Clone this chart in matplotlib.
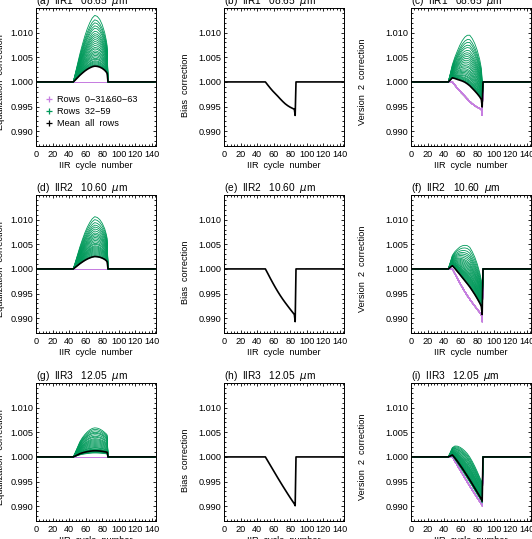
import numpy as np
import matplotlib
matplotlib.use("Agg")
import matplotlib.pyplot as plt
from matplotlib.lines import Line2D
from matplotlib.ticker import MultipleLocator, FormatStrFormatter, FixedLocator

plt.rcParams['font.family'] = ['Liberation Sans', 'DejaVu Sans']

# ---------------- data ----------------
cycles = [0, 45, 47, 50, 53, 56, 59, 62, 65, 68, 71, 74, 77, 80, 83, 85, 86, 87, 145]

# normalised equalization profile per channel (peak = 1)
eq_shape_iir1 = [0, 0, .10, .26, .42, .56, .69, .80, .89, .96, 1.0, .985, .94, .86, .74, .62, .54, 0, 0]
eq_shape_iir2 = [0, 0, .10, .26, .42, .56, .69, .80, .89, .96, 1.0, .985, .945, .875, .77, .66, .58, 0, 0]
eq_shape_iir3 = [0, 0, .12, .32, .52, .66, .77, .86, .93, .98, 1.0, .99, .96, .91, .84, .79, .75, 0, 0]

# peak equalization (x1e-3) for rows 32-59
amp_iir1 = [13.5, 12.6, 12.0, 11.4, 10.9, 10.3, 9.8, 9.4, 9.0, 8.6, 8.2, 7.8, 7.4, 7.0,
            6.7, 6.3, 6.0, 5.7, 5.4, 5.1, 4.8, 4.6, 4.3, 4.1, 3.9, 3.7, 3.5, 3.4]
amp_iir2 = [10.6, 10.0, 9.4, 8.9, 8.5, 8.1, 7.7, 7.3, 7.0, 6.7, 6.4, 6.1, 5.8, 5.5,
            5.2, 5.0, 4.7, 4.5, 4.3, 4.1, 3.9, 3.7, 3.5, 3.3, 3.1, 2.9, 2.7, 2.5]
amp_iir3 = [5.9, 5.6, 5.3, 5.0, 4.8, 4.5, 4.2, 4.0, 3.7, 3.5, 3.3, 3.1, 2.9, 2.7,
            2.5, 2.3, 2.1, 1.9, 1.8, 1.6, 1.5, 1.4, 1.3, 1.2, 1.1, 1.0, 0.9, 0.8]

# bias correction per channel
bias_iir1 = [1, 1, 1, 1, .99935, .99872, .99814, .99762, .99710, .99655, .99603, .99556,
             .99518, .99487, .99462, .99445, .99320, 1, 1]
bias_iir2 = [1, 1, 1, 1, .99905, .99808, .99715, .99625, .99540, .99460, .99385, .99315,
             .99248, .99182, .99118, .99075, .98930, 1, 1]
bias_iir3 = [1, 1, 1, 1, .99915, .99830, .99745, .99660, .99575, .99492, .99410, .99330,
             .99250, .99172, .99097, .99048, .99010, 1, 1]

channels = ["IIR1", "IIR2", "IIR3"]
wavelengths = ["08.65", "10.60", "12.05"]
panel_letters = [["a", "b", "c"], ["d", "e", "f"], ["g", "h", "i"]]
ylabels = ["Equalization  correction", "Bias  correction", "Version  2  correction"]
legend_labels = ["Rows  0\u221231&60\u221263", "Rows  32\u221259", "Mean  all  rows"]
y_ticks = [0.990, 0.995, 1.000, 1.005, 1.010]
x_ticks = [0, 20, 40, 60, 80, 100, 120, 140]

green_rows = list(range(32, 60))
n_rows = 64

GREEN = "#00995a"
PURPLE = "#c67ee0"

# ---------------- layout ----------------
W, H = 532, 539
fig = plt.figure(figsize=(W / 100, H / 100), dpi=100)
col_left = [36, 224, 411]
row_top = [8, 195, 383]
aw, ah = 120, 138
ylab_off = [-35, -38, -49]
ylab_y = [0.46, 0.442, 0.464]

shapes = [eq_shape_iir1, eq_shape_iir2, eq_shape_iir3]
amps = [amp_iir1, amp_iir2, amp_iir3]
biases = [bias_iir1, bias_iir2, bias_iir3]
x = np.array(cycles, dtype=float)

for r in range(3):
    shape = np.array(shapes[r])
    amp_all = np.zeros(n_rows)
    amp_all[green_rows] = np.array(amps[r]) * 1e-3
    eq = 1.0 + amp_all[:, None] * shape[None, :]
    bias = np.array(biases[r])
    v2 = eq * bias[None, :]
    for c in range(3):
        L, T = col_left[c], row_top[r]
        ax = fig.add_axes([L / W, 1 - (T + ah) / H, aw / W, ah / H])
        if c == 0:
            data = eq
        elif c == 2:
            data = v2
        if c in (0, 2):
            for i in range(n_rows):
                if i not in green_rows:
                    ax.plot(x, data[i], color=PURPLE, lw=0.7, zorder=1)
            for i in green_rows:
                ax.plot(x, data[i], color=GREEN, lw=0.6, zorder=2)
            ax.plot(x, data.mean(axis=0), color="black", lw=1.2, zorder=3)
        else:
            ax.plot(x, bias, color="black", lw=1.2)

        ax.set_xlim(0, 145)
        ax.set_ylim(0.987, 1.015)
        ax.xaxis.set_major_locator(FixedLocator(x_ticks))
        ax.xaxis.set_minor_locator(MultipleLocator(4))
        ax.yaxis.set_major_locator(FixedLocator(y_ticks))
        ax.yaxis.set_minor_locator(MultipleLocator(0.001))
        ax.yaxis.set_major_formatter(FormatStrFormatter("%.3f"))
        ax.tick_params(which="both", direction="in", top=True, right=True,
                       labelsize=6.6, width=0.6, colors="black")
        ax.tick_params(which="major", length=2.2)
        ax.tick_params(which="minor", length=1.1)
        ax.tick_params(axis="y", pad=2.2)
        ax.tick_params(axis="x", pad=3.0)
        for s in ax.spines.values():
            s.set_linewidth(0.7)

        ax.set_title("(%s)  %s   %s  $\\mu$m" % (panel_letters[r][c], channels[r], wavelengths[r]),
                     loc="left", fontsize=7.3, pad=2.3)
        ax.set_xlabel("IIR  cycle  number", fontsize=6.6, va="center")
        ax.xaxis.set_label_coords(0.5, -19.7 / ah)
        ax.set_ylabel(ylabels[c], fontsize=6.6, va="center", ha="center")
        ax.yaxis.set_label_coords(ylab_off[c] / aw, ylab_y[c])

        if r == 0 and c == 0:
            handles = [Line2D([], [], marker="+", ls="none", color=PURPLE, markersize=4.5, mew=0.9),
                       Line2D([], [], marker="+", ls="none", color=GREEN, markersize=4.5, mew=0.9),
                       Line2D([], [], marker="+", ls="none", color="black", markersize=4.5, mew=0.9)]
            ax.legend(handles, legend_labels, loc="upper left", bbox_to_anchor=(0.067, 0.367),
                      frameon=False, fontsize=6.6, handlelength=1.0, handletextpad=0.4,
                      labelspacing=0.3, borderpad=0, borderaxespad=0)

fig.savefig("out.png", dpi=100)
